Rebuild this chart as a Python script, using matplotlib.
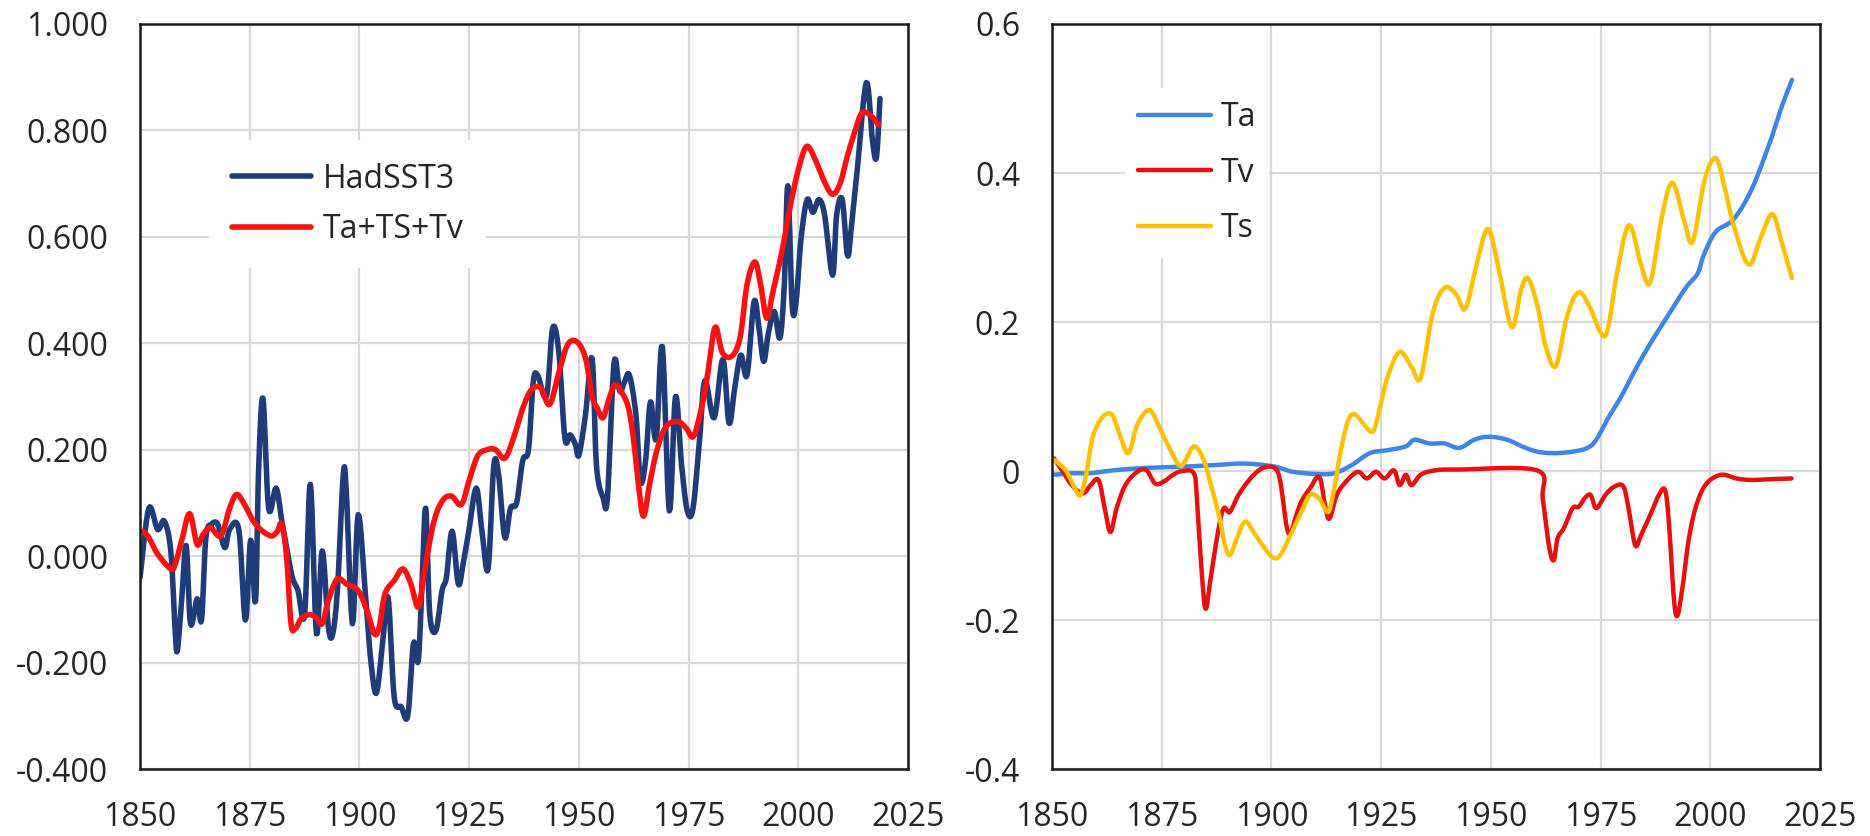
import numpy as np
import matplotlib
matplotlib.use("Agg")
import matplotlib.pyplot as plt
from matplotlib.ticker import FuncFormatter

plt.rcParams["font.family"] = ["Open Sans", "DejaVu Sans"]

# ---- left panel: HadSST3 vs model sum ----
had_years = [1850, 1852, 1854, 1855.5, 1857, 1858, 1858.5, 1859.5, 1860.5, 1861.5,
             1863, 1864, 1865, 1866.3, 1867.7, 1869.3, 1870.4, 1872.5, 1874, 1875.2,
             1876.3, 1877, 1878, 1879.3, 1881, 1882.3, 1883.4, 1884.7, 1886, 1887.5,
             1888.8, 1890.2, 1891.5, 1892.9, 1893.9, 1895, 1896.3, 1897, 1898.4, 1899.7,
             1901.4, 1902.5, 1903.8, 1905.2, 1906.5, 1907.9, 1909.5, 1911, 1912.3, 1913.4,
             1914.3, 1915.1, 1916, 1917.4, 1918.8, 1919.8, 1921.1, 1922.5, 1923.6, 1924.9,
             1926.6, 1927.9, 1929.3, 1930.6, 1931.7, 1933.1, 1934.4, 1935.8, 1937.2, 1938.5,
             1939.6, 1940.6, 1942.6, 1944, 1945.4, 1946.8, 1948, 1949.2, 1950, 1951.5,
             1953, 1954, 1955.5, 1956.5, 1958, 1959.3, 1960.4, 1961.5, 1963, 1964,
             1965.2, 1966.3, 1967.6, 1969, 1970.6, 1972, 1973.4, 1974.7, 1976, 1977.5,
             1978.7, 1980.8, 1982.8, 1984.2, 1985.5, 1986.9, 1988.3, 1989.9, 1991, 1992.1,
             1993.1, 1994.5, 1995.8, 1996.8, 1997.6, 1998.6, 1999.5, 2000.6, 2002, 2003.3,
             2004.7, 2006, 2007.8, 2008.7, 2010, 2011.2, 2012.1, 2013.5, 2015.5, 2016.9,
             2017.8, 2018.6]
had_vals = [-0.04, 0.09, 0.05, 0.066, 0.01, -0.14, -0.177, -0.08, 0.02, -0.127,
            -0.08, -0.12, 0.035, 0.06, 0.06, 0.016, 0.05, 0.05, -0.12, 0.03,
            -0.085, 0.16, 0.297, 0.09, 0.128, 0.066, 0.016, -0.04, -0.065, -0.11,
            0.135, -0.146, 0.01, -0.133, -0.146, -0.06, 0.153, 0.12, -0.127, 0.078,
            -0.077, -0.19, -0.258, -0.17, -0.077, -0.264, -0.283, -0.30, -0.164, -0.196,
            -0.04, 0.09, -0.108, -0.14, -0.065, -0.04, 0.047, -0.052, -0.015, 0.047,
            0.128, 0.047, -0.024, 0.17, 0.153, 0.035, 0.09, 0.10, 0.18, 0.20,
            0.328, 0.34, 0.30, 0.428, 0.385, 0.222, 0.228, 0.21, 0.19, 0.266,
            0.372, 0.17, 0.11, 0.11, 0.363, 0.31, 0.328, 0.34, 0.265, 0.14,
            0.18, 0.29, 0.22, 0.394, 0.085, 0.30, 0.17, 0.085, 0.09, 0.22,
            0.33, 0.26, 0.37, 0.25, 0.316, 0.378, 0.34, 0.478, 0.43, 0.366,
            0.416, 0.46, 0.41, 0.51, 0.696, 0.47, 0.48, 0.596, 0.67, 0.646,
            0.67, 0.64, 0.528, 0.64, 0.67, 0.565, 0.62, 0.733, 0.89, 0.78,
            0.75, 0.86]

sum_years = [1850.7, 1852, 1854, 1857, 1858, 1859.5, 1861.3, 1863, 1864.3, 1866,
             1868.4, 1870.4, 1872, 1873.8, 1875.8, 1877.9, 1880, 1881.3, 1882.3, 1883.4,
             1884.4, 1885.4, 1886.7, 1888.5, 1890.1, 1891.5, 1892.9, 1894.9, 1897, 1899.7,
             1901.7, 1903.4, 1904.5, 1905.8, 1907.9, 1909.9, 1911.7, 1913.4, 1914.7, 1916.8,
             1918.8, 1920.9, 1923.2, 1924.9, 1926.9, 1929, 1931, 1933.1, 1935.1, 1937.2,
             1939.2, 1941.3, 1943.3, 1945.4, 1947.4, 1949.5, 1951.5, 1953, 1954.2, 1955.5,
             1956.9, 1958.3, 1959.9, 1961.3, 1962.4, 1963.5, 1964.7, 1966.2, 1967.8, 1969.8,
             1972.5, 1974.5, 1976.1, 1977.9, 1979.2, 1981, 1982.6, 1984.7, 1986.7, 1988.3,
             1990.1, 1991.4, 1992.8, 1994.2, 1996.2, 1998.2, 2000.2, 2001.9, 2003.6, 2005.6,
             2007.7, 2009.5, 2011.1, 2012.8, 2014.5, 2016.6, 2018.3]
sum_vals = [0.047, 0.035, 0.004, -0.024, -0.015, 0.03, 0.08, 0.022, 0.04, 0.054,
            0.038, 0.09, 0.116, 0.097, 0.066, 0.047, 0.038, 0.047, 0.06, -0.002,
            -0.127, -0.136, -0.118, -0.11, -0.115, -0.127, -0.083, -0.043, -0.052, -0.065,
            -0.102, -0.146, -0.133, -0.071, -0.046, -0.024, -0.052, -0.096, -0.034, 0.06,
            0.103, 0.113, 0.097, 0.14, 0.188, 0.20, 0.20, 0.184, 0.222, 0.278,
            0.313, 0.316, 0.285, 0.344, 0.397, 0.403, 0.372, 0.30, 0.278, 0.26,
            0.297, 0.322, 0.306, 0.278, 0.222, 0.14, 0.075, 0.14, 0.20, 0.243,
            0.253, 0.24, 0.225, 0.278, 0.335, 0.43, 0.384, 0.375, 0.41, 0.51,
            0.553, 0.51, 0.447, 0.497, 0.57, 0.66, 0.733, 0.77, 0.75, 0.71,
            0.68, 0.70, 0.75, 0.796, 0.833, 0.827, 0.81]

# ---- right panel: components ----
ta_years = [1850.4, 1854.5, 1858.6, 1864, 1870.8, 1880.3, 1887.1, 1893.9, 1900.7, 1904.8,
            1910.2, 1914.3, 1918.3, 1922.4, 1926.5, 1930.6, 1932.6, 1936, 1939.4, 1942.8,
            1946.2, 1949.6, 1953.7, 1957.1, 1960.5, 1964.5, 1968.6, 1972, 1974, 1976.7,
            1979.5, 1982.9, 1986.3, 1990.4, 1994.4, 1997.1, 1998.5, 2001.2, 2005.3, 2009.4,
            2013.5, 2016.2, 2018.6]
ta_vals = [-0.005, -0.003, -0.003, 0.001, 0.004, 0.006, 0.008, 0.01, 0.006, -0.001,
           -0.004, -0.003, 0.008, 0.024, 0.028, 0.033, 0.042, 0.037, 0.037, 0.031,
           0.042, 0.046, 0.042, 0.033, 0.026, 0.024, 0.026, 0.031, 0.042, 0.071,
           0.098, 0.136, 0.171, 0.209, 0.246, 0.265, 0.29, 0.321, 0.338, 0.378,
           0.44, 0.488, 0.525]

tv_years = [1850.4, 1852.4, 1854.5, 1857, 1858.8, 1860.6, 1862, 1863.3, 1864.7, 1866.7,
            1869.4, 1871.5, 1873.5, 1875.5, 1877.6, 1879.6, 1882.3, 1883, 1884.1, 1885,
            1886.1, 1887.8, 1889.1, 1890.5, 1892.5, 1895.2, 1898, 1900.7, 1902, 1903.4,
            1904.3, 1905.4, 1906.8, 1908.8, 1910.9, 1912.2, 1913.2, 1914.9, 1917, 1919.7,
            1921.7, 1923.8, 1925.8, 1927.9, 1929.2, 1930.6, 1931.9, 1934, 1937.4, 1942.8,
            1960.5, 1961.8, 1963.2, 1964.3, 1965.2, 1966.6, 1968.6, 1970, 1971.3, 1972.7,
            1974, 1976.1, 1978.1, 1980.2, 1981.5, 1982.9, 1984.2, 1986.3, 1988.3, 1989.7,
            1990.6, 1991.7, 1992.5, 1993.7, 1995.1, 1996.8, 1999.1, 2002.5, 2005.9, 2009.3,
            2013.3, 2018.5]
tv_vals = [0.017, 0.0, -0.019, -0.03, -0.019, -0.012, -0.05, -0.082, -0.05, -0.019,
           -0.001, 0.001, -0.017, -0.014, -0.005, 0.0, -0.003, -0.037, -0.136, -0.185,
           -0.145, -0.082, -0.05, -0.055, -0.032, -0.01, 0.004, 0.004, -0.014, -0.073,
           -0.084, -0.064, -0.041, -0.023, -0.008, -0.046, -0.064, -0.032, -0.014, -0.001,
           -0.01, -0.001, -0.01, 0.001, -0.019, -0.005, -0.019, -0.005, 0.001, 0.002,
           0.001, -0.037, -0.10, -0.12, -0.09, -0.077, -0.05, -0.048, -0.037, -0.032,
           -0.05, -0.032, -0.021, -0.021, -0.055, -0.10, -0.086, -0.059, -0.032, -0.026,
           -0.073, -0.172, -0.194, -0.154, -0.091, -0.046, -0.017, -0.005, -0.01, -0.012,
           -0.011, -0.01]

ts_years = [1850.4, 1853.1, 1855.2, 1856.5, 1857.9, 1859.2, 1861.3, 1863.6, 1865.4, 1867.4,
            1869.4, 1872.1, 1874.2, 1876.2, 1878.9, 1880.3, 1882.3, 1884.4, 1886.4, 1888.2,
            1889.4, 1890.5, 1891.8, 1893.9, 1895.9, 1898, 1900.3, 1902, 1904.3, 1906.8,
            1908.8, 1910.9, 1912.9, 1914.3, 1915.6, 1917.4, 1919, 1921.1, 1923.1, 1924.5,
            1926.5, 1929.2, 1931.9, 1934, 1936.7, 1939.4, 1942.1, 1944.2, 1946.9, 1949.3,
            1951.6, 1954.7, 1956.8, 1958.4, 1960.5, 1962.5, 1964.8, 1967.3, 1970, 1972.7,
            1974.7, 1976.5, 1978.8, 1981.5, 1984.2, 1986.3, 1989, 1991.4, 1994.1, 1996,
            1998.7, 2001.2, 2003.2, 2005.3, 2008.7, 2011.4, 2014.1, 2016.2, 2018.6]
ts_vals = [0.015, 0.001, -0.023, -0.032, -0.001, 0.044, 0.071, 0.076, 0.049, 0.024,
           0.062, 0.082, 0.062, 0.037, 0.008, 0.013, 0.033, 0.017, -0.023, -0.064,
           -0.10, -0.113, -0.095, -0.068, -0.082, -0.10, -0.116, -0.113, -0.086, -0.055,
           -0.032, -0.037, -0.055, -0.023, 0.022, 0.067, 0.076, 0.062, 0.053, 0.08,
           0.127, 0.16, 0.14, 0.125, 0.211, 0.246, 0.237, 0.218, 0.281, 0.325,
           0.277, 0.193, 0.242, 0.259, 0.224, 0.167, 0.141, 0.207, 0.24, 0.218,
           0.189, 0.187, 0.268, 0.33, 0.277, 0.253, 0.343, 0.387, 0.334, 0.308,
           0.391, 0.42, 0.382, 0.33, 0.277, 0.312, 0.345, 0.308, 0.259]

x_ticks = [1850, 1875, 1900, 1925, 1950, 1975, 2000, 2025]
left_yticks = [-0.4, -0.2, 0.0, 0.2, 0.4, 0.6, 0.8, 1.0]
right_yticks = [-0.4, -0.2, 0.0, 0.2, 0.4, 0.6]

TEXT = "#262626"
GRID = "#d9d9d9"
FS = 23


def smooth(xs, ys, steps=8):
    # Catmull-Rom drawing path through the read points (Excel "smoothed line" look)
    x = np.asarray(xs, float)
    y = np.asarray(ys, float)
    px = np.concatenate([[x[0]], x, [x[-1]]])
    py = np.concatenate([[y[0]], y, [y[-1]]])
    t = np.linspace(0, 1, steps, endpoint=False)
    out_x, out_y = [], []
    for i in range(1, len(px) - 2):
        for arr, out in ((px, out_x), (py, out_y)):
            p0, p1, p2, p3 = arr[i - 1], arr[i], arr[i + 1], arr[i + 2]
            out.extend(0.5 * (2 * p1 + (-p0 + p2) * t
                              + (2 * p0 - 5 * p1 + 4 * p2 - p3) * t ** 2
                              + (-p0 + 3 * p1 - 3 * p2 + p3) * t ** 3))
    out_x.append(x[-1])
    out_y.append(y[-1])
    return out_x, out_y


fig = plt.figure(figsize=(18.7, 8.36), dpi=100)
ax1 = fig.add_axes([0.0749, 0.0801, 0.4107, 0.8912])
ax2 = fig.add_axes([0.5626, 0.0801, 0.4107, 0.8912])


def style_axes(ax, yticks, fmt):
    ax.set_xlim(1850, 2025)
    ax.set_ylim(yticks[0], yticks[-1])
    ax.set_xticks(x_ticks)
    ax.set_yticks(yticks)
    ax.yaxis.set_major_formatter(FuncFormatter(fmt))
    ax.grid(True, color=GRID, linewidth=1.6)
    ax.set_axisbelow(True)
    ax.tick_params(length=0, labelsize=FS, labelcolor=TEXT, pad=23)
    for spine in ax.spines.values():
        spine.set_color("#1a1a1a")
        spine.set_linewidth(1.8)


style_axes(ax1, left_yticks, lambda v, p: f"{v:.3f}")
style_axes(ax2, right_yticks, lambda v, p: "0" if abs(v) < 1e-9 else f"{v:.1f}")

ax1.plot(*smooth(had_years, had_vals), color="#1f3c7a", lw=4.0,
         solid_joinstyle="round", solid_capstyle="round", label="HadSST3")
ax1.plot(*smooth(sum_years, sum_vals), color="#ff1010", lw=4.0,
         solid_joinstyle="round", solid_capstyle="round", label="Ta+TS+Tv")

ax2.plot(*smooth(ta_years, ta_vals), color="#3d85e6", lw=3.2,
         solid_joinstyle="round", solid_capstyle="round", label="Ta")
ax2.plot(*smooth(tv_years, tv_vals), color="#e8100e", lw=3.2,
         solid_joinstyle="round", solid_capstyle="round", label="Tv")
ax2.plot(*smooth(ts_years, ts_vals), color="#ffc000", lw=3.2,
         solid_joinstyle="round", solid_capstyle="round", label="Ts")

leg1 = ax1.legend(loc="center left", bbox_to_anchor=(0.09, 0.758), borderaxespad=0,
                  frameon=True, fontsize=FS, handlelength=2.5, handletextpad=0.35,
                  labelspacing=0.55, borderpad=0.7)
leg2 = ax2.legend(loc="center left", bbox_to_anchor=(0.095, 0.80), borderaxespad=0,
                  frameon=True, fontsize=FS, handlelength=2.3, handletextpad=0.3,
                  labelspacing=0.7, borderpad=0.4)
for leg in (leg1, leg2):
    leg.get_frame().set_facecolor("white")
    leg.get_frame().set_edgecolor("none")
    leg.get_frame().set_alpha(1)
    for t in leg.get_texts():
        t.set_color(TEXT)

fig.savefig("out.png", dpi=100, facecolor="white")
